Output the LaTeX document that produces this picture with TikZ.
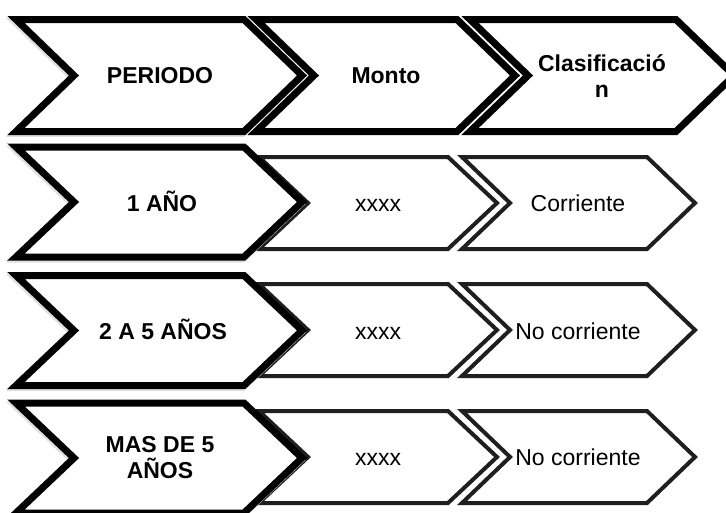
\documentclass[tikz,border=0pt]{standalone}
\usepackage{fontspec}
\setmainfont{Liberation Sans}
\tikzset{
  thickbox/.style={draw=black, fill=white, line width=7pt, line join=miter, miter limit=10},
  thinbox/.style={draw=black!88, fill=white, line width=4pt, line join=miter, miter limit=10},
  shadowline/.style={draw=black!12, line width=7pt, line join=miter, miter limit=10, shift={(-1.5,2)}},
  boldtxt/.style={font=\fontsize{23}{25.5}\selectfont\bfseries, inner sep=0pt, align=center},
  plaintxt/.style={font=\fontsize{23}{25.5}\selectfont, inner sep=0pt, align=center},
}
% #2 left x, #3 right x, #4 centre y, #5 half height, #6 depth of notch/tip
\newcommand{\chev}[6][]{\path[#1] (#2,#4-#5) -- (#3,#4-#5) -- (#3+#6,#4) -- (#3,#4+#5) -- (#2,#4+#5) -- (#2+#6,#4) -- cycle;}
\begin{document}
\begin{tikzpicture}[x=1pt,y=-1pt]
\useasboundingbox[fill=white] (0,0) rectangle (726,512);

% ---- header row ----
\chev[thickbox]{470}{676}{75.5}{56}{58}
\chev[thickbox]{256}{457}{75.5}{56}{58}
\chev[shadowline]{16}{244}{75.5}{56}{58}
\chev[thickbox]{16}{244}{75.5}{56}{58}
\node[boldtxt,anchor=base] (hPeriodo) at (160,83.3) {PERIODO};
\node[boldtxt,anchor=base] (hMonto) at (386,83.3) {Monto};
\node[boldtxt] (hClas) at (602,76.3) {Clasificació\\n};

% ---- row 2 ----
\chev[thinbox]{462}{647}{203}{46}{48}
\chev[thinbox]{259}{448}{203}{46}{49}
\chev[shadowline]{16}{244}{202}{55}{58}
\chev[thickbox]{16}{244}{202}{55}{58}
\node[boldtxt,anchor=base] (p1) at (162,211) {1 AÑO};
\node[plaintxt,anchor=base] (m1) at (378,211) {xxxx};
\node[plaintxt,anchor=base] (c1) at (578,211) {Corriente};

% ---- row 3 ----
\chev[thinbox]{462}{647}{330}{46}{48}
\chev[thinbox]{259}{448}{330}{46}{49}
\chev[shadowline]{16}{244}{330.5}{55}{58}
\chev[thickbox]{16}{244}{330.5}{55}{58}
\node[boldtxt,anchor=base] (p2) at (163,339) {2 A 5 AÑOS};
\node[plaintxt,anchor=base] (m2) at (378,339) {xxxx};
\node[plaintxt,anchor=base] (c2) at (578,339) {No corriente};

% ---- row 4 ----
\chev[thinbox]{462}{647}{457}{46}{48}
\chev[thinbox]{259}{448}{457}{46}{49}
\chev[shadowline]{16}{244}{458}{55}{58}
\chev[thickbox]{16}{244}{458}{55}{58}
\node[boldtxt] (p3) at (160,457.8) {MAS DE 5\\AÑOS};
\node[plaintxt,anchor=base] (m3) at (378,465.5) {xxxx};
\node[plaintxt,anchor=base] (c3) at (578,465.5) {No corriente};
\end{tikzpicture}
\end{document}
